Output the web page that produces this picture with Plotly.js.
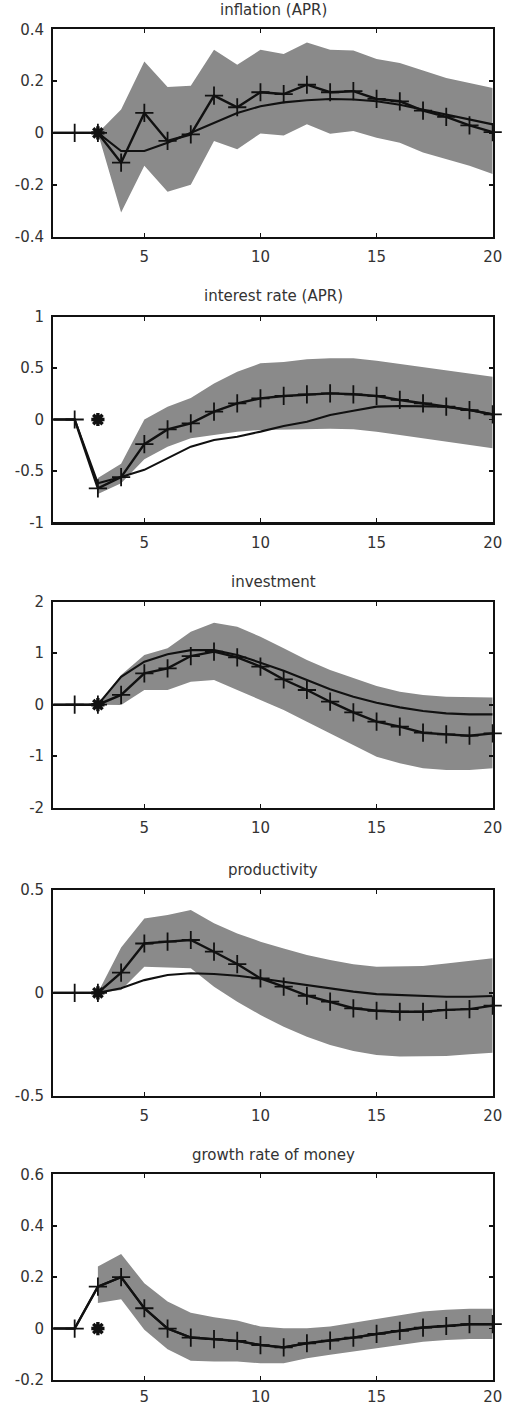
<!DOCTYPE html>
<html>
<head>
<meta charset="utf-8">
<script src="https://cdn.plot.ly/plotly-3.0.1.min.js"></script>
<style>html,body{margin:0;padding:0;background:#fff;}#chart{width:506px;height:1406px;}</style>
</head>
<body>
<div id="chart"></div>
<script>
const periods = [1,2,3,4,5,6,7,8,9,10,11,12,13,14,15,16,17,18,19,20];
const bandPeriods = [3,4,5,6,7,8,9,10,11,12,13,14,15,16,17,18,19,20];
const titles = ["inflation (APR)", "interest rate (APR)", "investment", "productivity", "growth rate of money"];
const starPeriod = [3];
const starValue = [0];
const xTickVals = [5,10,15,20];
const xTickText = ["5","10","15","20"];

const inflationCrossed = [0,0,0,-0.115,0.077,-0.031,-0.006,0.144,0.099,0.157,0.150,0.186,0.157,0.161,0.131,0.122,0.086,0.062,0.029,0.003];
const inflationSolid   = [0,0,0,-0.07,-0.07,-0.038,0,0.039,0.077,0.103,0.118,0.126,0.131,0.129,0.122,0.109,0.09,0.071,0.054,0.033];
const inflationHigh    = [0,0.09,0.276,0.177,0.182,0.321,0.263,0.321,0.305,0.349,0.321,0.318,0.285,0.27,0.241,0.212,0.193,0.173];
const inflationLow     = [0,-0.307,-0.127,-0.227,-0.2,-0.031,-0.063,-0.002,-0.01,0.033,-0.003,0.007,-0.019,-0.038,-0.076,-0.102,-0.127,-0.159];
const inflationTicks   = [-0.4,-0.2,0,0.2,0.4];
const inflationLabels  = ["-0.4","-0.2","0","0.2","0.4"];

const interestCrossed = [0,0,-0.67,-0.56,-0.24,-0.096,-0.037,0.076,0.157,0.206,0.229,0.245,0.254,0.245,0.229,0.19,0.157,0.125,0.092,0.05];
const interestSolid   = [0,0,-0.62,-0.56,-0.49,-0.378,-0.264,-0.2,-0.167,-0.118,-0.063,-0.021,0.044,0.086,0.125,0.131,0.131,0.125,0.092,0.05];
const interestHigh    = [-0.57,-0.43,0,0.125,0.21,0.35,0.465,0.546,0.56,0.585,0.595,0.595,0.572,0.54,0.514,0.48,0.449,0.416];
const interestLow     = [-0.724,-0.62,-0.387,-0.264,-0.183,-0.15,-0.118,-0.102,-0.096,-0.092,-0.089,-0.096,-0.118,-0.15,-0.183,-0.216,-0.248,-0.28];
const interestTicks   = [-1,-0.5,0,0.5,1];
const interestLabels  = ["-1","-0.5","0","0.5","1"];

const investmentCrossed = [0,0,0,0.19,0.61,0.705,0.945,1.03,0.92,0.74,0.49,0.285,0.058,-0.149,-0.33,-0.427,-0.544,-0.576,-0.602,-0.557];
const investmentSolid   = [0,0,0,0.54,0.835,0.98,1.06,1.06,0.964,0.816,0.66,0.48,0.3,0.155,0.039,-0.052,-0.123,-0.168,-0.188,-0.188];
const investmentHigh    = [0,0.576,0.964,1.094,1.417,1.59,1.515,1.32,1.094,0.867,0.673,0.511,0.362,0.252,0.188,0.155,0.142,0.142];
const investmentLow     = [0,-0.006,0.285,0.285,0.447,0.479,0.285,0.09,-0.104,-0.33,-0.557,-0.783,-1.01,-1.139,-1.236,-1.27,-1.27,-1.236];
const investmentTicks   = [-2,-1,0,1,2];
const investmentLabels  = ["-2","-1","0","1","2"];

const productivityCrossed = [0,0,0,0.098,0.24,0.249,0.257,0.2,0.14,0.07,0.03,-0.014,-0.043,-0.075,-0.087,-0.092,-0.092,-0.083,-0.079,-0.062];
const productivitySolid   = [0,0,0,0.022,0.062,0.087,0.095,0.092,0.083,0.07,0.054,0.038,0.022,0.006,-0.006,-0.011,-0.014,-0.019,-0.019,-0.015];
const productivityHigh    = [0,0.22,0.362,0.378,0.403,0.338,0.289,0.249,0.216,0.184,0.16,0.139,0.127,0.127,0.13,0.143,0.155,0.168];
const productivityLow     = [0,0.014,0.127,0.122,0.119,0.03,-0.043,-0.108,-0.165,-0.213,-0.254,-0.283,-0.302,-0.31,-0.31,-0.307,-0.299,-0.291];
const productivityTicks   = [-0.5,0,0.5];
const productivityLabels  = ["-0.5","0","0.5"];

const moneyCrossed = [0,0,0.163,0.2,0.079,0,-0.035,-0.041,-0.048,-0.064,-0.073,-0.057,-0.047,-0.035,-0.021,-0.009,0.004,0.01,0.017,0.017];
const moneySolid   = [0,0,0.163,0.2,0.079,0,-0.035,-0.041,-0.048,-0.064,-0.073,-0.057,-0.047,-0.035,-0.021,-0.009,0.004,0.01,0.017,0.017];
const moneyHigh    = [0.241,0.29,0.176,0.105,0.062,0.044,0.031,0.008,0.001,0.001,0.008,0.023,0.038,0.053,0.066,0.073,0.077,0.077];
const moneyLow     = [0.099,0.114,-0.005,-0.08,-0.125,-0.128,-0.128,-0.135,-0.135,-0.115,-0.102,-0.09,-0.077,-0.064,-0.051,-0.044,-0.041,-0.041];
const moneyTicks   = [-0.2,0,0.2,0.4,0.6];
const moneyLabels  = ["-0.2","0","0.2","0.4","0.6"];

const panels = [
  {title: titles[0], crossed: inflationCrossed, solid: inflationSolid, high: inflationHigh, low: inflationLow, ticks: inflationTicks, labels: inflationLabels},
  {title: titles[1], crossed: interestCrossed, solid: interestSolid, high: interestHigh, low: interestLow, ticks: interestTicks, labels: interestLabels},
  {title: titles[2], crossed: investmentCrossed, solid: investmentSolid, high: investmentHigh, low: investmentLow, ticks: investmentTicks, labels: investmentLabels},
  {title: titles[3], crossed: productivityCrossed, solid: productivitySolid, high: productivityHigh, low: productivityLow, ticks: productivityTicks, labels: productivityLabels},
  {title: titles[4], crossed: moneyCrossed, solid: moneySolid, high: moneyHigh, low: moneyLow, ticks: moneyTicks, labels: moneyLabels}
];

// pixel geometry (top, bottom) of each plot box
const W = 506, H = 1406;
const boxes = [[29.3,236.5],[316.7,522.3],[601.7,807.7],[890,1095.7],[1174.3,1380]];
const titleCenters = [9.5,296,582,870,1155];
const xDomain = [53.3/W, 492.7/W];
const bandColor = "#8a8a8a";
const ink = "#111111";
const fontFam = "DejaVu Sans, Liberation Sans, Arial, sans-serif";

const traces = [];
const layout = {
  width: W, height: H, autosize: false,
  margin: {l:0, r:0, t:0, b:0, pad:0},
  paper_bgcolor: "#ffffff", plot_bgcolor: "#ffffff",
  showlegend: false,
  font: {family: fontFam, size: 15, color: "#333333"},
  annotations: []
};

panels.forEach((p, i) => {
  const n = i + 1;
  const xa = n === 1 ? "x" : "x" + n;
  const ya = n === 1 ? "y" : "y" + n;
  const xk = n === 1 ? "xaxis" : "xaxis" + n;
  const yk = n === 1 ? "yaxis" : "yaxis" + n;
  const rng = [p.ticks[0], p.ticks[p.ticks.length - 1]];

  traces.push({x: bandPeriods, y: p.high, xaxis: xa, yaxis: ya, type: "scatter", mode: "lines",
               line: {width: 0, color: bandColor}, hoverinfo: "skip"});
  traces.push({x: bandPeriods, y: p.low, xaxis: xa, yaxis: ya, type: "scatter", mode: "lines",
               fill: "tonexty", fillcolor: bandColor, line: {width: 0, color: bandColor}, hoverinfo: "skip"});
  traces.push({x: periods, y: p.solid, xaxis: xa, yaxis: ya, type: "scatter", mode: "lines",
               line: {width: 2.1, color: ink}});
  traces.push({x: periods, y: p.crossed, xaxis: xa, yaxis: ya, type: "scatter", mode: "lines+markers",
               line: {width: 2.4, color: ink}, cliponaxis: false,
               marker: {symbol: "cross-thin-open", size: 13, color: ink, line: {width: 1.8, color: ink}}});
  traces.push({x: starPeriod, y: starValue, xaxis: xa, yaxis: ya, type: "scatter", mode: "markers",
               cliponaxis: false,
               marker: {symbol: "asterisk-open", size: 11, color: ink, line: {width: 3.4, color: ink}}});

  const b = boxes[i];
  layout[xk] = {
    domain: xDomain, anchor: ya, range: [1.08, 20], autorange: false,
    tickmode: "array", tickvals: xTickVals, ticktext: xTickText,
    ticks: "inside", ticklen: 4, tickwidth: 1.6, tickcolor: ink,
    showline: true, linewidth: 2.2, linecolor: ink, mirror: "ticks",
    showgrid: false, zeroline: false, automargin: false,
    ticklabelstandoff: (n === 5 ? 2 : 5),
    tickfont: {family: fontFam, size: 15, color: "#333333"}
  };
  layout[yk] = {
    domain: [1 - b[1]/H, 1 - b[0]/H], anchor: xa, range: rng, autorange: false,
    tickmode: "array", tickvals: p.ticks, ticktext: p.labels,
    ticks: "inside", ticklen: 4, tickwidth: 1.6, tickcolor: ink,
    showline: true, linewidth: 2.2, linecolor: ink, mirror: "ticks",
    showgrid: false, zeroline: false, automargin: false,
    ticklabelstandoff: 4,
    tickfont: {family: fontFam, size: 15, color: "#333333"}
  };
  layout.annotations.push({
    text: p.title, xref: "paper", yref: "paper",
    x: (xDomain[0] + xDomain[1]) / 2, y: 1 - titleCenters[i]/H,
    xanchor: "center", yanchor: "middle", showarrow: false,
    font: {family: fontFam, size: 15, color: "#333333"}
  });
});

Plotly.newPlot("chart", traces, layout, {displayModeBar: false, staticPlot: true});
</script>
</body>
</html>
